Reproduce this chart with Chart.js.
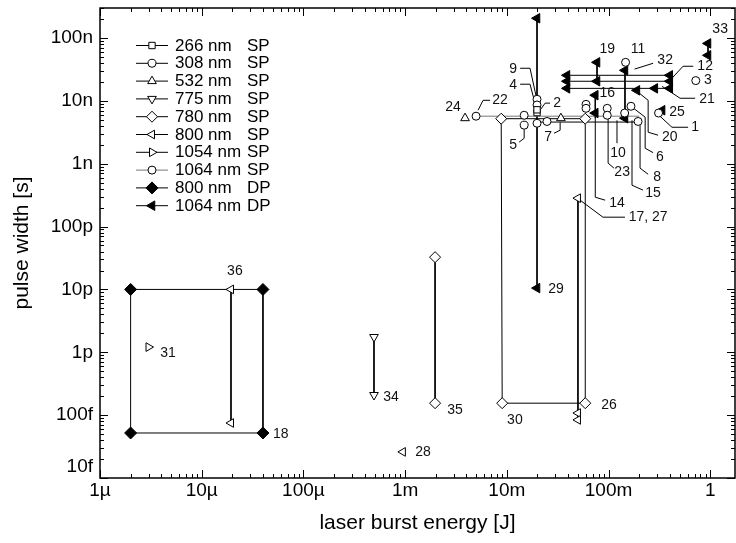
<!DOCTYPE html>
<html>
<head>
<meta charset="utf-8">
<script src="https://cdn.jsdelivr.net/npm/chart.js@4.4.1/dist/chart.umd.min.js"></script>
<style>
  html, body { margin: 0; padding: 0; background: #fff; }
  #wrap { width: 736px; height: 543px; }
</style>
</head>
<body>
<div id="wrap"><canvas id="myChart" width="736" height="543"></canvas></div>
<script>
// laser types: wavelength + single pulse (SP) / double pulse (DP)
var seriesNames = ['266 nm', '308 nm', '532 nm', '775 nm', '780 nm', '800 nm', '1054 nm', '1064 nm', '800 nm', '1064 nm'];
var seriesModes = ['SP', 'SP', 'SP', 'SP', 'SP', 'SP', 'SP', 'SP', 'DP', 'DP'];

// [energy J, pulse width s]
var sp266 = [[0.0198, 6.5e-9], [0.0198, 7.2e-9]];
var sp308 = [[0.0198, 1.06e-8], [0.0198, 8.6e-9], [0.0148, 4.1e-9], [0.0198, 4.4e-9], [0.0248, 4.7e-9], [0.195, 4.7e-9], [0.147, 4.1e-8]];
var sp308Lines = [[[0.0198, 4.6e-9], [0.195, 4.6e-9]]];
var sp532 = [[3.88e-3, 5.3e-9], [0.034, 5.3e-9]];
var sp775 = [[4.94e-4, 1.75e-12], [4.94e-4, 2.09e-13]];
var sp775Lines = [[[4.94e-4, 1.75e-12], [4.94e-4, 2.09e-13]]];
var sp780 = [[8.8e-3, 5.2e-9], [9.0e-3, 1.55e-13], [0.059, 1.55e-13], [0.059, 5.2e-9], [1.97e-3, 3.26e-11], [1.97e-3, 1.55e-13]];
var sp780Lines = [
  [[8.8e-3, 5.2e-9], [9.0e-3, 1.55e-13], [0.059, 1.55e-13], [0.059, 5.2e-9], [8.8e-3, 5.2e-9]],
  [[1.97e-3, 3.26e-11], [1.97e-3, 1.55e-13]]
];
var sp800 = [[0.05, 2.83e-10], [0.05, 1.08e-13], [0.05, 8.4e-14], [1.94e-5, 1.0e-11], [1.94e-5, 7.5e-14], [9.5e-4, 2.6e-14]];
var sp800Lines = [[[0.05, 2.83e-10], [0.05, 8.4e-14]], [[1.94e-5, 1.0e-11], [1.94e-5, 7.5e-14]]];
var sp1054 = [[3.0e-6, 1.21e-12]];
var sp1064 = [[4.98e-3, 5.7e-9], [0.0148, 5.9e-9], [0.06, 8.8e-9], [0.06, 7.6e-9], [0.097, 7.6e-9], [0.097, 5.9e-9], [0.166, 8.2e-9], [0.144, 6.4e-9], [0.72, 2.1e-8], [0.31, 6.4e-9]];
var sp1064Lines = [[[4.98e-3, 5.7e-9], [0.2, 5.7e-9]]];
var dp800 = [[2e-6, 1e-11], [4e-5, 1e-11], [4e-5, 5.2e-14], [2e-6, 5.2e-14]];
var dp800Lines = [[[2e-6, 5.2e-14], [2e-6, 1e-11], [4e-5, 1e-11], [4e-5, 5.2e-14], [2e-6, 5.2e-14]]];
var dp1064 = [[0.0198, 2.06e-7], [0.0198, 1.05e-11], [0.95, 8.2e-8], [0.95, 5.3e-8], [0.077, 4.1e-8], [0.145, 3.06e-8], [0.145, 5.3e-9],
  [0.039, 2.55e-8], [0.039, 2.05e-8], [0.039, 1.58e-8], [0.40, 2.55e-8], [0.40, 2.05e-8], [0.40, 1.58e-8], [0.077, 2.05e-8],
  [0.19, 1.47e-8], [0.285, 1.58e-8], [0.336, 7.1e-9], [0.074, 1.23e-8], [0.074, 6.4e-9]];
var dp1064Lines = [
  [[0.0198, 2.06e-7], [0.0198, 1.05e-11]], [[0.95, 8.2e-8], [0.95, 5.3e-8]], [[0.077, 4.1e-8], [0.077, 2.05e-8]],
  [[0.039, 2.55e-8], [0.40, 2.55e-8]], [[0.039, 2.05e-8], [0.40, 2.05e-8]], [[0.039, 1.58e-8], [0.40, 1.58e-8]],
  [[0.145, 3.06e-8], [0.145, 5.3e-9]], [[0.074, 1.23e-8], [0.074, 5.3e-9]]
];

// reference numbers next to the points, with leader lines
var refLabels = [
  { text: '33', at: [1.25, 1.37e-7] },
  { text: '19', at: [0.097, 6.6e-8] },
  { text: '11', at: [0.195, 6.6e-8] },
  { text: '32', at: [0.36, 4.4e-8], leader: [[0.274, 3.96e-8], [0.18, 3.2e-8]] },
  { text: '12', at: [0.89, 3.55e-8], leader: [[0.68, 3.55e-8], [0.54, 3.55e-8], [0.42, 2.29e-8]] },
  { text: '3', at: [0.95, 2.1e-8] },
  { text: '21', at: [0.93, 1.06e-8], leader: [[0.71, 1.1e-8], [0.505, 1.1e-8], [0.336, 1.7e-8]] },
  { text: '25', at: [0.47, 6.6e-9] },
  { text: '1', at: [0.71, 3.8e-9], leader: [[0.605, 3.8e-9], [0.42, 3.8e-9], [0.32, 5.7e-9]] },
  { text: '20', at: [0.40, 2.64e-9], leader: [[0.307, 2.84e-9], [0.245, 3.17e-9], [0.245, 1.02e-8], [0.19, 1.42e-8]] },
  { text: '6', at: [0.32, 1.27e-9], leader: [[0.166, 8.2e-9], [0.229, 5.5e-9], [0.229, 1.76e-9], [0.274, 1.5e-9]] },
  { text: '8', at: [0.30, 6.1e-10], leader: [[0.204, 4.1e-9], [0.204, 8.5e-10], [0.245, 6.8e-10]] },
  { text: '15', at: [0.274, 3.4e-10], leader: [[0.17, 4.9e-9], [0.17, 4.55e-10], [0.218, 3.8e-10]] },
  { text: '10', at: [0.124, 1.47e-9], leader: [[0.121, 4.9e-9], [0.121, 2.12e-9]] },
  { text: '23', at: [0.136, 7.3e-10], leader: [[0.099, 5.5e-9], [0.099, 1.02e-9], [0.113, 8.5e-10]] },
  { text: '14', at: [0.121, 2.35e-10], leader: [[0.074, 5.3e-9], [0.074, 2.93e-10], [0.0925, 2.63e-10]] },
  { text: '17, 27', at: [0.245, 1.41e-10], leader: [[0.0525, 2.63e-10], [0.088, 1.41e-10], [0.145, 1.41e-10]] },
  { text: '16', at: [0.097, 1.32e-8] },
  { text: '9', at: [0.0115, 3.18e-8], leader: [[0.0135, 3.3e-8], [0.0169, 3.3e-8], [0.0194, 1.18e-8]] },
  { text: '4', at: [0.0115, 1.77e-8], leader: [[0.0135, 1.84e-8], [0.0169, 1.84e-8], [0.0189, 9.2e-9]] },
  { text: '2', at: [0.0312, 9.2e-9], leader: [[0.0266, 9.2e-9], [0.0238, 9.2e-9], [0.0212, 7.1e-9]] },
  { text: '22', at: [8.57e-3, 1.02e-8], leader: [[6.84e-3, 1.02e-8], [5.84e-3, 1.02e-8], [5.21e-3, 7.1e-9]] },
  { text: '24', at: [2.96e-3, 7.9e-9] },
  { text: '5', at: [0.0115, 1.97e-9], leader: [[0.0132, 2.2e-9], [0.0148, 2.54e-9], [0.0148, 3.53e-9]] },
  { text: '7', at: [0.0254, 2.64e-9], leader: [[0.0291, 3.05e-9], [0.0334, 3.41e-9], [0.0334, 4.57e-9]] },
  { text: '29', at: [0.0305, 1.0e-11] },
  { text: '30', at: [0.012, 8.35e-14] },
  { text: '26', at: [0.101, 1.45e-13] },
  { text: '35', at: [3.1e-3, 1.2e-13] },
  { text: '34', at: [7.26e-4, 1.94e-13] },
  { text: '28', at: [1.5e-3, 2.6e-14] },
  { text: '36', at: [2.12e-5, 1.95e-11] },
  { text: '31', at: [4.67e-6, 9.7e-13] },
  { text: '18', at: [6.0e-5, 5.0e-14] }
];

var xTickValues = [1e-6, 1e-5, 1e-4, 1e-3, 1e-2, 1e-1, 1];
var xTickLabels = ['1µ', '10µ', '100µ', '1m', '10m', '100m', '1'];
var yTickValues = [1e-14, 1e-13, 1e-12, 1e-11, 1e-10, 1e-9, 1e-8, 1e-7];
var yTickLabels = ['10f', '100f', '1p', '10p', '100p', '1n', '10n', '100n'];

var pointSets = [sp266, sp308, sp532, sp775, sp780, sp800, sp1054, sp1064, dp800, dp1064];
var lineSets = [[], sp308Lines, [], sp775Lines, sp780Lines, sp800Lines, [], sp1064Lines, dp800Lines, dp1064Lines];

// marker look per series
var markers = [
  { style: 'rect', rot: 0, r: 4.5, fill: '#fff', line: '#000' },
  { style: 'circle', rot: 0, r: 4, fill: '#fff', line: '#000' },
  { style: 'triangle', rot: 0, r: 5, fill: '#fff', line: '#000' },
  { style: 'triangle', rot: 180, r: 5, fill: '#fff', line: '#000' },
  { style: 'rectRot', rot: 0, r: 5.5, fill: '#fff', line: '#000' },
  { style: 'triangle', rot: 270, r: 5, fill: '#fff', line: '#000' },
  { style: 'triangle', rot: 90, r: 5, fill: '#fff', line: '#000' },
  { style: 'circle', rot: 0, r: 4, fill: '#fff', line: '#777' },
  { style: 'rectRot', rot: 0, r: 6, fill: '#000', line: '#000' },
  { style: 'triangle', rot: 270, r: 5.5, fill: '#000', line: '#000' }
];

function toXY(pairs) {
  return pairs.map(function(p) { return { x: p[0], y: p[1] }; });
}

var datasets = [];
pointSets.forEach(function(pts, i) {
  var m = markers[i];
  lineSets[i].forEach(function(seg) {
    datasets.push({
      data: toXY(seg),
      showLine: true,
      pointRadius: 0,
      borderColor: m.line,
      borderWidth: 1,
      order: 2
    });
  });
  datasets.push({
    data: toXY(pts),
    showLine: false,
    pointStyle: m.style,
    rotation: m.rot,
    pointRadius: m.r,
    pointBackgroundColor: m.fill,
    pointBorderColor: '#000',
    pointBorderWidth: 1,
    order: 1
  });
});

var FONT = "'Liberation Sans', Arial, Helvetica, sans-serif";

function drawMarker(ctx, m, x, y) {
  ctx.save();
  ctx.fillStyle = m.fill;
  ctx.strokeStyle = '#000';
  ctx.lineWidth = 1;
  Chart.helpers.drawPoint(ctx, { pointStyle: m.style, radius: m.r, rotation: m.rot, borderWidth: 1 }, x, y);
  ctx.restore();
}

var decorations = {
  id: 'decorations',
  beforeDatasetsDraw: function(chart) {
    var ctx = chart.ctx, xs = chart.scales.x, ys = chart.scales.y;
    ctx.save();
    ctx.strokeStyle = '#000';
    ctx.lineWidth = 1;
    refLabels.forEach(function(l) {
      if (!l.leader) return;
      ctx.beginPath();
      l.leader.forEach(function(p, k) {
        var px = xs.getPixelForValue(p[0]), py = ys.getPixelForValue(p[1]);
        if (k === 0) ctx.moveTo(px, py); else ctx.lineTo(px, py);
      });
      ctx.stroke();
    });
    ctx.restore();
  },
  afterDatasetsDraw: function(chart) {
    var ctx = chart.ctx, a = chart.chartArea, xs = chart.scales.x, ys = chart.scales.y;
    ctx.save();

    // reference numbers
    ctx.fillStyle = '#111';
    ctx.font = '14px ' + FONT;
    ctx.textAlign = 'center';
    ctx.textBaseline = 'middle';
    refLabels.forEach(function(l) {
      ctx.fillText(l.text, xs.getPixelForValue(l.at[0]), ys.getPixelForValue(l.at[1]));
    });

    // frame
    ctx.strokeStyle = '#000';
    ctx.lineWidth = 1.5;
    ctx.strokeRect(a.left, a.top, a.right - a.left, a.bottom - a.top);

    // inward ticks on all four sides
    ctx.lineWidth = 1;
    ctx.beginPath();
    for (var e = -6; e <= 0; e++) {
      for (var k = 1; k <= 9; k++) {
        var v = k * Math.pow(10, e);
        if (v > xs.max) break;
        var px = Math.round(xs.getPixelForValue(v)) + 0.5;
        var len = k === 1 ? 8 : 4;
        ctx.moveTo(px, a.bottom); ctx.lineTo(px, a.bottom - len);
        ctx.moveTo(px, a.top); ctx.lineTo(px, a.top + len);
      }
    }
    for (var ey = -14; ey <= -7; ey++) {
      for (var ky = 1; ky <= 9; ky++) {
        var vy = ky * Math.pow(10, ey);
        if (vy > ys.max) break;
        var py = Math.round(ys.getPixelForValue(vy)) + 0.5;
        var leny = ky === 1 ? 8 : 4;
        ctx.moveTo(a.left, py); ctx.lineTo(a.left + leny, py);
        ctx.moveTo(a.right, py); ctx.lineTo(a.right - leny, py);
      }
    }
    ctx.stroke();

    // tick labels
    ctx.fillStyle = '#000';
    ctx.font = '19px ' + FONT;
    ctx.textAlign = 'right';
    yTickValues.forEach(function(v, i) {
      var py = ys.getPixelForValue(v);
      if (i === 0) py -= 11;
      ctx.fillText(yTickLabels[i], a.left - 7, py);
    });
    ctx.textAlign = 'center';
    xTickValues.forEach(function(v, i) {
      ctx.fillText(xTickLabels[i], xs.getPixelForValue(v), a.bottom + 13);
    });

    // axis titles
    ctx.font = '21px ' + FONT;
    ctx.fillText('laser burst energy [J]', (a.left + a.right) / 2, 523);
    ctx.save();
    ctx.translate(22, (a.top + a.bottom) / 2);
    ctx.rotate(-Math.PI / 2);
    ctx.fillText('pulse width [s]', 0, 0);
    ctx.restore();

    // legend
    ctx.font = '17px ' + FONT;
    ctx.textAlign = 'left';
    seriesNames.forEach(function(name, i) {
      var y = 45 + 17.8 * i;
      var m = markers[i];
      ctx.strokeStyle = m.line;
      ctx.lineWidth = 1;
      ctx.beginPath();
      ctx.moveTo(136, y + 0.5);
      ctx.lineTo(168, y + 0.5);
      ctx.stroke();
      drawMarker(ctx, m, 152, y + 0.5);
      ctx.fillStyle = '#000';
      ctx.fillText(name, 175, y + 1);
      ctx.fillText(seriesModes[i], 247, y + 1);
    });

    ctx.restore();
  }
};

var ctx = document.getElementById('myChart').getContext('2d');
var myChart = new Chart(ctx, {
  type: 'scatter',
  data: { datasets: datasets },
  options: {
    responsive: false,
    animation: false,
    layout: { autoPadding: false, padding: { left: 100, right: 1, top: 8, bottom: 65 } },
    plugins: {
      legend: { display: false },
      tooltip: { enabled: false }
    },
    scales: {
      x: { type: 'logarithmic', bounds: 'data', min: 1e-6, max: 1.75, display: false },
      y: { type: 'logarithmic', bounds: 'data', min: 1e-14, max: 3e-7, display: false }
    }
  },
  plugins: [decorations]
});
</script>
</body>
</html>
